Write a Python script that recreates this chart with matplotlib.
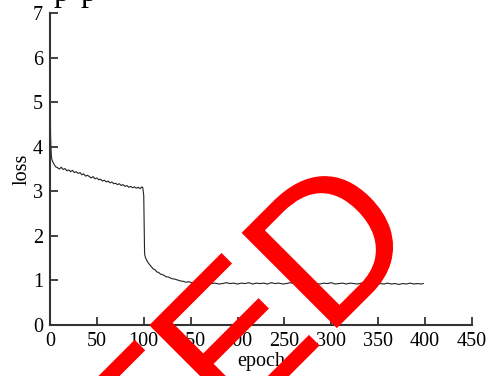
import matplotlib
matplotlib.use('Agg')
import matplotlib.pyplot as plt
import matplotlib.patheffects as pe

# loss curve
epoch_start = [0, 0.3, 0.6, 1, 1.5, 2, 3]
loss_start = [6.3, 5.3, 4.3, 4.0, 3.8, 3.72, 3.66]

epoch_stage1 = list(range(4, 100, 2)) + [99]
loss_stage1 = [3.62, 3.55, 3.53, 3.50, 3.54, 3.49, 3.51, 3.46, 3.48, 3.44,
               3.47, 3.42, 3.44, 3.40, 3.42, 3.37, 3.39, 3.34, 3.36, 3.33,
               3.30, 3.33, 3.28, 3.30, 3.26, 3.27, 3.23, 3.25, 3.21, 3.23,
               3.19, 3.21, 3.17, 3.18, 3.15, 3.17, 3.13, 3.15, 3.11, 3.13,
               3.09, 3.11, 3.08, 3.10, 3.07, 3.09, 3.06, 3.10, 3.08]

epoch_drop = [100, 100.4, 100.8, 101, 102, 103, 104, 106, 108, 110, 112, 114,
              116, 118, 120, 122, 124, 126, 128, 130, 133, 136, 139, 142, 145,
              148, 151, 154, 157]
loss_drop = [2.9, 2.2, 1.7, 1.58, 1.50, 1.46, 1.42, 1.36, 1.31, 1.26, 1.24,
             1.19, 1.18, 1.14, 1.13, 1.11, 1.08, 1.08, 1.06, 1.04, 1.03, 1.01,
             0.99, 0.98, 0.96, 0.97, 0.95, 0.94, 0.95]

epoch_flat = list(range(160, 400, 4)) + [398]
loss_flat = [0.94, 0.92, 0.95, 0.93, 0.94, 0.92, 0.93, 0.95, 0.93, 0.94,
             0.92, 0.94, 0.93, 0.95, 0.92, 0.94, 0.93, 0.94, 0.92, 0.95,
             0.93, 0.94, 0.92, 0.93, 0.95, 0.93, 0.94, 0.92, 0.94, 0.93,
             0.95, 0.93, 0.92, 0.94, 0.93, 0.95, 0.92, 0.93, 0.94, 0.92,
             0.94, 0.93, 0.92, 0.94, 0.93, 0.92, 0.94, 0.92, 0.93, 0.92,
             0.94, 0.92, 0.93, 0.91, 0.93, 0.92, 0.94, 0.92, 0.93, 0.92,
             0.93]

epochs = epoch_start + epoch_stage1 + epoch_drop + epoch_flat
loss = loss_start + loss_stage1 + loss_drop + loss_flat

x_ticks = list(range(0, 451, 50))
y_ticks = list(range(0, 8))

plt.rcParams['font.family'] = ['Liberation Serif', 'DejaVu Serif']

fig = plt.figure(figsize=(4.89, 3.76), dpi=100)
ax = fig.add_axes([0.1022, 0.1356, 0.863, 0.8298])

ax.plot(epochs, loss, color='#222222', linewidth=0.8)

ax.set_xlim(0, 450)
ax.set_ylim(0, 7)
ax.set_xticks(x_ticks)
ax.set_yticks(y_ticks)
ax.spines['top'].set_visible(False)
ax.spines['right'].set_visible(False)
for s in ['left', 'bottom']:
    ax.spines[s].set_color('#333333')
    ax.spines[s].set_linewidth(1.5)
ax.tick_params(direction='in', length=6, width=1.3, color='#333333',
               labelsize=14.5, pad=5)
ax.set_xlabel('epoch', fontsize=14.5, labelpad=1)
ax.set_ylabel('loss', fontsize=14.5, labelpad=1)

# bits of a caption above the figure (only descenders visible)
fig.text(61.5 / 489, 1 - 0.5 / 376, 'p', fontsize=23, ha='center', va='baseline')
fig.text(88 / 489, 1 - 0.5 / 376, 'p', fontsize=23, ha='center', va='baseline')

# red stamp over the chart
stamp = fig.text(426 / 489, 1 - 239 / 376, 'REJECTED', family='Liberation Sans',
                 fontsize=141, color='#ff0000', rotation=45,
                 rotation_mode='anchor', ha='right', va='baseline', zorder=10)
stamp.set_path_effects([pe.Normal()])

fig.savefig('out.png', dpi=100)
